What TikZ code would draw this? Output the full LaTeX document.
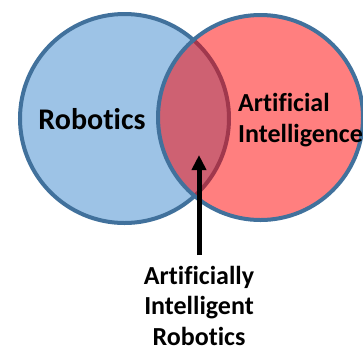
\documentclass[tikz,border=0pt]{standalone}
\usepackage{fontspec}
\setmainfont[Ligatures=NoCommon]{Carlito}
\usetikzlibrary{arrows.meta}
\definecolor{setblue}{HTML}{9DC3E6}
\definecolor{rimblue}{HTML}{41719C}
\tikzstyle{robset}=[circle, draw=rimblue, fill=setblue, line width=4pt, minimum size=209pt, inner sep=0pt]
\tikzstyle{aiset}=[circle, draw=rimblue, fill=red, fill opacity=0.5, draw opacity=1, line width=4pt, minimum size=205pt, inner sep=0pt]
\tikzstyle{lbl}=[font=\bfseries\fontsize{26}{30.5}\selectfont, inner sep=0pt]
\begin{document}
\begin{tikzpicture}[x=1pt, y=-1pt]
  \useasboundingbox (0,0) rectangle (363,349);
  \node[robset] (rob) at (124.5,118.5) {};
  \node[aiset] (ai) at (260.5,117.5) {};
  \node[lbl, font=\bfseries\fontsize{30}{36}\selectfont] (robtxt) at (92,119) {Robotics};
  \node[lbl, align=left, anchor=west] (aitxt) at (238,120) {Artificial\\Intelligence};
  \node[lbl, align=center, anchor=north] (both) at (199,266) {Artificially\\Intelligent\\Robotics};
  \coordinate (tip) at (199,155);
  \draw[-{Triangle[length=15pt,width=14pt]}, line width=5pt, shorten <=11pt] (both.north) -- (tip);
\end{tikzpicture}
\end{document}
